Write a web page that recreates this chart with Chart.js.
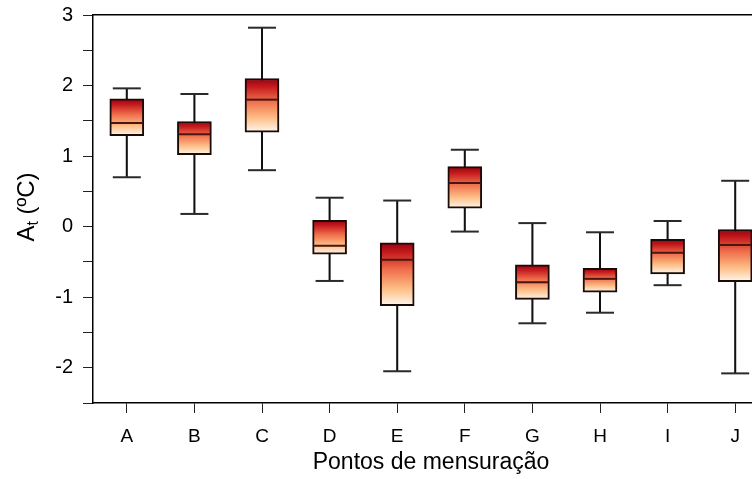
<!DOCTYPE html>
<html>
<head>
<meta charset="utf-8">
<script src="https://cdn.jsdelivr.net/npm/chart.js@4"></script>
<style>
  html, body { margin: 0; padding: 0; background: #fff; overflow: hidden; width: 752px; height: 479px; }
  canvas { display: block; }
</style>
</head>
<body>
<!-- the plot runs a little past the right edge in the original figure -->
<canvas id="boxChart" width="769" height="479"></canvas>
<script>
// Pontos de mensuração
const labels = ["A", "B", "C", "D", "E", "F", "G", "H", "I", "J"];
// box plot statistics (ºC)
const minVals = [0.70, 0.18, 0.80, -0.77, -2.05, -0.07, -1.37, -1.22, -0.83, -2.08];
const q1Vals  = [1.29, 1.02, 1.34, -0.39, -1.12, 0.26, -1.03, -0.93, -0.67, -0.78];
const medVals = [1.47, 1.31, 1.80, -0.27, -0.47, 0.62, -0.79, -0.74, -0.37, -0.26];
const q3Vals  = [1.81, 1.49, 2.10, 0.09, -0.23, 0.85, -0.54, -0.59, -0.18, -0.04];
const maxVals = [1.96, 1.88, 2.82, 0.41, 0.37, 1.09, 0.05, -0.08, 0.08, 0.65];

const FONT = "'Liberation Sans', Arial, sans-serif";

function boxGradient(context) {
  const chart = context.chart;
  if (!chart.chartArea) return '#f08050';
  const i = context.dataIndex;
  const y = chart.scales.y;
  const top = y.getPixelForValue(q3Vals[i]);
  const bottom = y.getPixelForValue(q1Vals[i]);
  const g = chart.ctx.createLinearGradient(0, top, 0, bottom);
  g.addColorStop(0, '#98000f');
  g.addColorStop(0.15, '#c41a1c');
  g.addColorStop(0.42, '#ef6d4b');
  g.addColorStop(0.72, '#fdbb82');
  g.addColorStop(1, '#fff7ec');
  return g;
}

// y title with a subscript t, drawn as canvas text
const yTitlePlugin = {
  id: 'yTitle',
  afterDraw(chart) {
    const { ctx, chartArea } = chart;
    ctx.save();
    ctx.translate(26, (chartArea.top + chartArea.bottom) / 2 - 2);
    ctx.rotate(-Math.PI / 2);
    ctx.fillStyle = '#000';
    ctx.textBaseline = 'alphabetic';
    const big = '24px ' + FONT, small = '16px ' + FONT;
    ctx.font = big;
    const wA = ctx.measureText('A').width;
    const wRest = ctx.measureText(' (ºC)').width;
    ctx.font = small;
    const wT = ctx.measureText('t').width;
    let x = -(wA + wT + wRest) / 2;
    ctx.font = big;
    ctx.fillText('A', x, 8);
    x += wA;
    ctx.font = small;
    ctx.fillText('t', x, 12);
    x += wT;
    ctx.font = big;
    ctx.fillText(' (ºC)', x, 8);
    ctx.restore();
  }
};

const ctx = document.getElementById('boxChart').getContext('2d');
new Chart(ctx, {
  type: 'bar',
  data: {
    labels: labels,
    datasets: [
      {
        label: 'whisker',
        data: labels.map((_, i) => [minVals[i], maxVals[i]]),
        backgroundColor: '#111',
        barThickness: 1.4,
        grouped: false,
        order: 5
      },
      {
        label: 'box',
        data: labels.map((_, i) => [q1Vals[i], q3Vals[i]]),
        backgroundColor: boxGradient,
        borderColor: '#1a0a08',
        borderWidth: 2,
        borderSkipped: false,
        barThickness: 34,
        grouped: false,
        order: 4
      },
      {
        type: 'line',
        label: 'max',
        data: maxVals,
        showLine: false,
        pointStyle: 'line',
        pointRadius: 14,
        pointHoverRadius: 14,
        borderColor: '#2a2a2a',
        borderWidth: 2,
        order: 3
      },
      {
        type: 'line',
        label: 'min',
        data: minVals,
        showLine: false,
        pointStyle: 'line',
        pointRadius: 14,
        pointHoverRadius: 14,
        borderColor: '#2a2a2a',
        borderWidth: 2,
        order: 2
      },
      {
        type: 'line',
        label: 'median',
        data: medVals,
        showLine: false,
        pointStyle: 'line',
        pointRadius: 16,
        pointHoverRadius: 16,
        borderColor: '#4a1610',
        borderWidth: 2,
        order: 1
      }
    ]
  },
  options: {
    responsive: false,
    animation: false,
    layout: { autoPadding: false, padding: { left: 0, top: 15, right: 0, bottom: 0 } },
    plugins: { legend: { display: false }, tooltip: { enabled: false } },
    scales: {
      x: {
        type: 'category',
        offset: true,
        afterFit: s => { s.height = 76; s.paddingLeft = 0; s.paddingRight = 0; },
        grid: { offset: false, drawOnChartArea: false, tickLength: 10, color: '#222', lineWidth: 1 },
        border: { display: true, color: '#000', width: 1.5 },
        ticks: { color: '#000', padding: 12, font: { family: FONT, size: 19 } },
        title: {
          display: true,
          text: 'Pontos de mensuração',
          color: '#000',
          padding: { top: 3, bottom: 3 },
          font: { family: FONT, size: 23 }
        }
      },
      xTop: {
        type: 'category',
        position: 'top',
        labels: labels,
        afterFit: s => { s.height = 0; s.paddingLeft = 0; s.paddingRight = 0; },
        grid: { display: false },
        ticks: { display: false },
        border: { display: true, color: '#000', width: 1.5 }
      },
      y: {
        min: -2.5,
        max: 3,
        afterFit: s => { s.width = 93; s.paddingTop = 0; s.paddingBottom = 0; },
        grid: { drawOnChartArea: false, tickLength: 10, color: '#222', lineWidth: 1 },
        border: { display: true, color: '#000', width: 1.5 },
        ticks: {
          stepSize: 0.5,
          color: '#000',
          padding: 10,
          font: { family: FONT, size: 20 },
          callback: v => Number.isInteger(v) ? String(v) : ''
        }
      }
    }
  },
  plugins: [yTitlePlugin]
});
</script>
</body>
</html>
